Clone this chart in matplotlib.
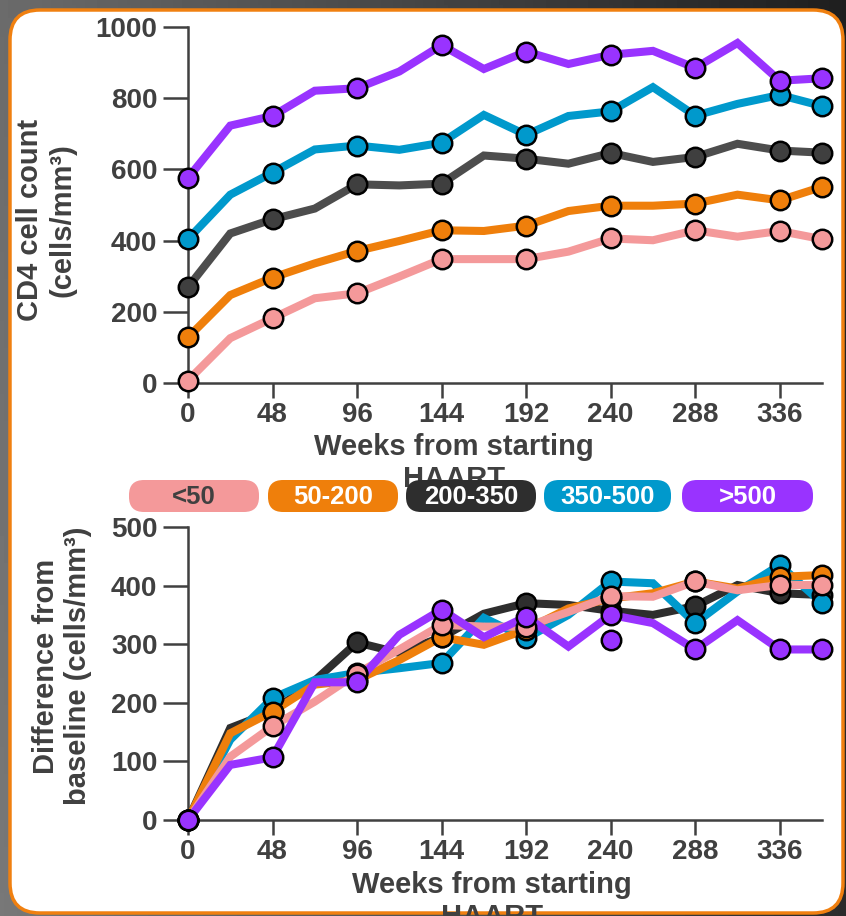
import numpy as np
import matplotlib
matplotlib.use('Agg')
import matplotlib.pyplot as plt
from matplotlib.patches import FancyBboxPatch

plt.rcParams['font.family'] = ['Liberation Sans', 'DejaVu Sans']
plt.rcParams['font.weight'] = 'bold'

# weeks from starting HAART (every 24 weeks), markers only at some of them
weeks = [0, 24, 48, 72, 96, 120, 144, 168, 192, 216, 240, 264, 288, 312, 336, 360]
marker_idx = [0, 2, 4, 6, 8, 10, 12, 14, 15]
xticks = [0, 48, 96, 144, 192, 240, 288, 336]

groups = ['<50', '50-200', '200-350', '350-500', '>500']
colors = ['#F4999A', '#EF7F0B', '#2E2E2E', '#0099CC', '#9933FF']
top_colors = ['#F4999A', '#EF7F0B', '#4D4D4D', '#0099CC', '#9933FF']
label_colors = ['#404040', 'white', 'white', 'white', 'white']

# CD4 cell count (cells/mm3)
cd4_lt50 = [7, 126, 182, 238, 252, 299, 348, 348, 348, 369, 406, 401, 429, 411, 427, 404]
cd4_50_200 = [128, 247, 296, 336, 371, 399, 429, 427, 442, 483, 498, 498, 504, 529, 513, 551]
cd4_200_350 = [269, 420, 460, 490, 558, 555, 560, 639, 630, 616, 646, 621, 635, 672, 653, 647]
cd4_350_500 = [404, 529, 591, 656, 667, 655, 675, 753, 697, 750, 763, 831, 751, 784, 809, 778]
cd4_gt500 = [576, 723, 750, 821, 828, 875, 949, 882, 931, 896, 922, 933, 885, 955, 849, 856]

# difference from baseline (cells/mm3)
diff_lt50 = [0, 108, 160, 202, 250, 291, 333, 330, 330, 355, 382, 381, 407, 392, 401, 401]
diff_50_200 = [0, 148, 185, 231, 239, 273, 312, 299, 325, 361, 378, 387, 407, 395, 415, 418]
diff_200_350 = [0, 157, 185, 238, 303, 285, 312, 352, 370, 367, 357, 350, 365, 401, 387, 384]
diff_350_500 = [0, 137, 208, 239, 251, 259, 268, 345, 310, 350, 407, 404, 336, 390, 435, 370]
diff_gt500 = [0, 94, 107, 235, 235, 316, 359, 312, 347, 296, 350, 336, 291, 341, 291, 291]
# lone extra marker in the >500 group
extra_week = [240]
extra_diff = [308]

top_series = [cd4_lt50, cd4_50_200, cd4_200_350, cd4_350_500, cd4_gt500]
bot_series = [diff_lt50, diff_50_200, diff_200_350, diff_350_500, diff_gt500]

W, H = 846, 916
fig = plt.figure(figsize=(W / 100, H / 100), dpi=100)
txt = '#404040'

# background: dark gradient + white rounded panel with orange border
bg = fig.add_axes([0, 0, 1, 1], zorder=-10)
bg.set_xlim(0, W)
bg.set_ylim(H, 0)
bg.axis('off')
xx = np.linspace(0, 1, 200)
yy = np.linspace(0, 1, 200)
gx, gy = np.meshgrid(xx, yy)
grad = 0.42 - 0.30 * gx + 0.05 * gy
bg.imshow(grad, cmap='gray', vmin=0, vmax=1, extent=[0, W, H, 0], aspect='auto')
bg.add_patch(FancyBboxPatch((10, 10), 833, 903, boxstyle='round,pad=0,rounding_size=30',
                            facecolor='white', edgecolor='#F08010', lw=2.5))


def style_axes(ax, ymax, ystep):
    ax.set_facecolor('none')
    for s in ['top', 'right']:
        ax.spines[s].set_visible(False)
    for s in ['left', 'bottom']:
        ax.spines[s].set_color('#404040')
        ax.spines[s].set_linewidth(1.8)
    ax.set_xlim(0, 360)
    ax.set_ylim(0, ymax)
    ax.set_xticks(xticks)
    ax.set_yticks(np.arange(0, ymax + 1, ystep))
    ax.tick_params(axis='y', length=18, width=1.8, color='#404040', pad=4,
                   labelsize=20, labelcolor=txt)
    ax.tick_params(axis='x', length=11, width=1.8, color='#404040', pad=3,
                   labelsize=20, labelcolor=txt)


ax1 = fig.add_axes([188 / W, 1 - 383 / H, 634 / W, 356 / H])
ax2 = fig.add_axes([188 / W, 1 - 820 / H, 634 / W, 293 / H])
style_axes(ax1, 1000, 200)
style_axes(ax2, 500, 100)

for ys, c in zip(top_series, top_colors):
    mc = '#3F3F3F' if c == '#4D4D4D' else c
    ax1.plot(weeks, ys, color=c, lw=5.8, solid_joinstyle='miter', clip_on=False, zorder=3)
    ax1.plot([weeks[i] for i in marker_idx], [ys[i] for i in marker_idx], 'o', ms=14,
             mfc=mc, mec='black', mew=1.8, clip_on=False, zorder=4)

# draw order in the lower panel: black, blue, orange, pink, purple
order = [2, 3, 1, 0, 4]
for n, k in enumerate(order):
    ys = bot_series[k]
    ax2.plot(weeks, ys, color=colors[k], lw=5.8, solid_joinstyle='miter', clip_on=False,
             zorder=3 + n * 0.1)
for n, k in enumerate(order):
    ys = bot_series[k]
    ax2.plot([weeks[i] for i in marker_idx], [ys[i] for i in marker_idx], 'o', ms=14,
             mfc=colors[k], mec='black', mew=1.8, clip_on=False, zorder=4 + n * 0.1)
ax2.plot(extra_week, extra_diff, 'o', ms=14, mfc=colors[4], mec='black', mew=1.8,
         clip_on=False, zorder=5)

# axis titles
fig.text(46 / W, 1 - 220 / H, 'CD4 cell count\n(cells/mm³)', rotation=90, ha='center',
         va='center', multialignment='center', fontsize=21, color=txt)
fig.text(62 / W, 1 - 666 / H, 'Difference from\nbaseline (cells/mm³)', rotation=90,
         ha='center', va='center', multialignment='center', fontsize=21, color=txt)
fig.text(454 / W, 1 - 433 / H, 'Weeks from starting\nHAART', ha='center', va='top',
         fontsize=21, color=txt)
fig.text(492 / W, 1 - 871 / H, 'Weeks from starting\nHAART', ha='center', va='top',
         fontsize=21, color=txt)

# legend pills drawn over everything
fg = fig.add_axes([0, 0, 1, 1], zorder=10)
fg.set_xlim(0, W)
fg.set_ylim(H, 0)
fg.axis('off')
box_x = [129, 268, 406, 544, 682]
box_w = [130, 130, 130, 127, 131]
for g, c, lc, x0, bw in zip(groups, colors, label_colors, box_x, box_w):
    fg.add_patch(FancyBboxPatch((x0, 480), bw, 32, boxstyle='round,pad=0,rounding_size=15',
                                facecolor=c, edgecolor='none'))
    fg.text(x0 + bw / 2, 497, g, ha='center', va='center', fontsize=18.5, color=lc)

fig.savefig('out.png', dpi=100)
